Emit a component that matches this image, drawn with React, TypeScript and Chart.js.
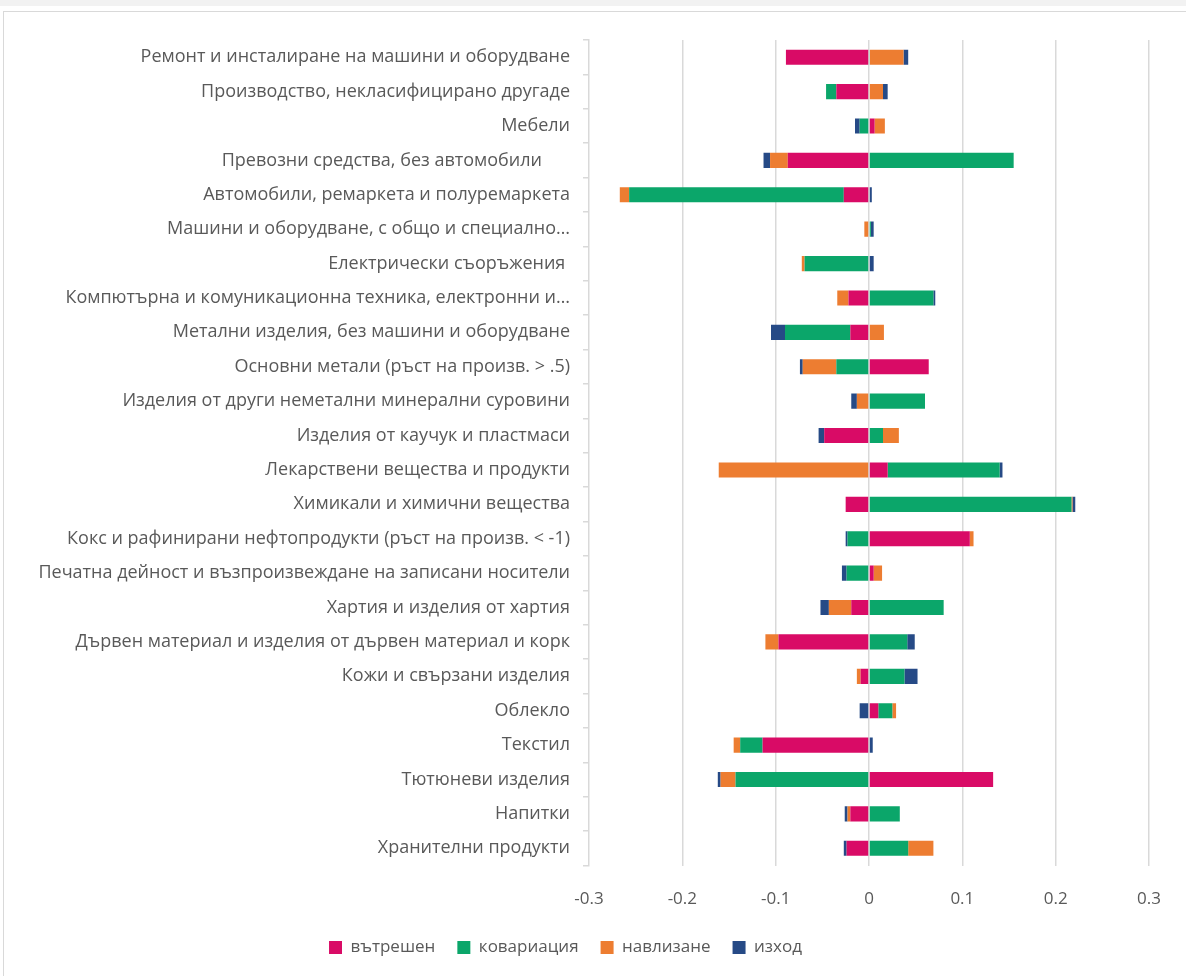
import React, { useEffect, useRef } from "react";
import { Chart, registerables } from "chart.js";

Chart.register(...registerables);

const categories = [
  "Ремонт и инсталиране на машини и оборудване",
  "Производство, некласифицирано другаде",
  "Мебели",
  "Превозни средства, без автомобили      ",
  "Автомобили, ремаркета и полуремаркета",
  "Машини и оборудване, с общо и специално…",
  "Електрически съоръжения ",
  "Компютърна и комуникационна техника, електронни и…",
  "Метални изделия, без машини и оборудване",
  "Основни метали (ръст на произв. > .5)",
  "Изделия от други неметални минерални суровини",
  "Изделия от каучук и пластмаси",
  "Лекарствени вещества и продукти",
  "Химикали и химични вещества",
  "Кокс и рафинирани нефтопродукти (ръст на произв. < -1)",
  "Печатна дейност и възпроизвеждане на записани носители",
  "Хартия и изделия от хартия",
  "Дървен материал и изделия от дървен материал и корк",
  "Кожи и свързани изделия",
  "Облекло",
  "Текстил",
  "Тютюневи изделия",
  "Напитки",
  "Хранителни продукти",
];

const internal = [
  -0.089, -0.035, 0.006, -0.087, -0.027, 0.0, 0.0, -0.022, -0.02, 0.064, 0.0, -0.048,
  0.02, -0.025, 0.108, 0.005, -0.019, -0.097, -0.009, 0.01, -0.114, 0.133, -0.02, -0.024,
];
const covariation = [
  0.001, -0.011, -0.01, 0.155, -0.23, 0.002, -0.069, 0.069, -0.07, -0.035, 0.06, 0.015,
  0.12, 0.217, -0.023, -0.024, 0.08, 0.041, 0.038, 0.015, -0.024, -0.143, 0.033, 0.042,
];
const entry = [
  0.036, 0.015, 0.011, -0.019, -0.01, -0.005, -0.003, -0.012, 0.016, -0.036, -0.013, 0.017,
  -0.161, 0.001, 0.004, 0.009, -0.024, -0.014, -0.004, 0.004, -0.007, -0.016, -0.003, 0.027,
];
const exitVals = [
  0.005, 0.005, -0.005, -0.007, 0.003, 0.003, 0.005, 0.002, -0.015, -0.003, -0.006, -0.006,
  0.003, 0.003, -0.002, -0.005, -0.009, 0.008, 0.014, -0.01, 0.004, -0.003, -0.003, -0.003,
];

const seriesNames = ["вътрешен", "ковариация", "навлизане", "изход"];
const seriesColors = ["#d90b66", "#0ba66a", "#ed7d31", "#264a86"];
const xTicks = [-0.3, -0.2, -0.1, 0, 0.1, 0.2, 0.3];

const FONT = "'Open Sans', 'Noto Sans', sans-serif";
const SHIFT = 18;

export default function App() {
  const canvasRef = useRef<HTMLCanvasElement | null>(null);

  useEffect(() => {
    const canvas = canvasRef.current;
    if (!canvas) return;
    const values = [internal, covariation, entry, exitVals];
    const chart = new Chart(canvas, {
      type: "bar",
      data: {
        labels: categories,
        datasets: seriesNames.map((name, i) => ({
          label: name,
          data: values[i],
          backgroundColor: seriesColors[i],
          borderWidth: 0,
          barPercentage: 0.44,
          categoryPercentage: 1,
        })),
      },
      options: {
        indexAxis: "y",
        animation: false,
        responsive: false,
        maintainAspectRatio: false,
        layout: { padding: { top: 40, right: 37, bottom: 10, left: 0 } },
        plugins: {
          legend: {
            position: "bottom",
            labels: {
              boxWidth: 13,
              boxHeight: 13,
              padding: 22,
              color: "#595959",
              font: { family: FONT, size: 17 },
            },
          },
          tooltip: { enabled: false },
        },
        scales: {
          x: {
            stacked: true,
            min: -0.3,
            max: 0.3,
            afterBuildTicks: (scale: any) => {
              scale.ticks = xTicks.map((v) => ({ value: v }));
            },
            afterFit: (scale: any) => {
              scale.height = 51.5;
            },
            ticks: {
              color: "#595959",
              font: { family: FONT, size: 17 },
              padding: 23,
              callback: (v: any) => String(Math.round(Number(v) * 10) / 10),
            },
            grid: {
              color: (ctx: any) => (ctx.tick && ctx.tick.value === -0.3 ? "rgba(0,0,0,0)" : "#d9d9d9"),
              lineWidth: 1.5,
              drawTicks: false,
            },
            border: { display: false },
          },
          y: {
            stacked: true,
            afterFit: (scale: any) => {
              scale.width = 589 + SHIFT;
            },
            ticks: {
              color: "#595959",
              font: { family: FONT, size: 18 },
              padding: 13,
              autoSkip: false,
            },
            grid: {
              offset: true,
              drawOnChartArea: false,
              tickLength: 6,
              color: "#d9d9d9",
              lineWidth: 1.5,
            },
            border: { display: true, color: "#d9d9d9", width: 1.5 },
          },
        },
      },
    });
    return () => chart.destroy();
  }, []);

  return (
    <div style={{ position: "fixed", left: 0, top: 0, width: 1186, height: 976, background: "#ffffff", overflow: "hidden" }}>
      <div style={{ position: "absolute", left: 0, top: 0, width: 1186, height: 6, background: "#f2f2f2" }} />
      <div
        style={{
          position: "absolute",
          left: 3,
          top: 11,
          width: 1200,
          height: 1000,
          border: "1px solid #d9d9d9",
          boxSizing: "border-box",
        }}
      />
      <canvas
        ref={canvasRef}
        width={1186 + SHIFT}
        height={976}
        style={{ position: "absolute", left: -SHIFT, top: 0, width: 1186 + SHIFT, height: 976 }}
      />
    </div>
  );
}
